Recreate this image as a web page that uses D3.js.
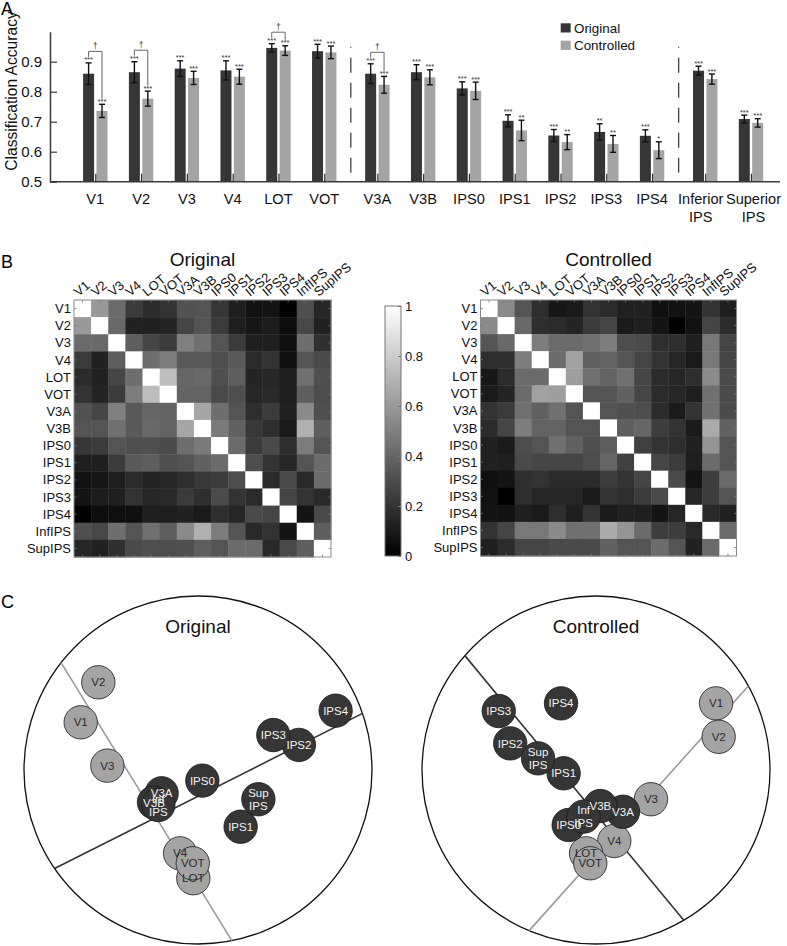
<!DOCTYPE html>
<html><head><meta charset="utf-8">
<script src="https://cdn.jsdelivr.net/npm/d3@7"></script>
<style>
body{margin:0;background:#fff}
svg{display:block;font-family:"Liberation Sans",Arial,Helvetica,sans-serif}
</style>
</head><body><svg id="fig" width="787" height="946"></svg>
<script>
// ---------------- DATA ----------------
// Panel A: classification accuracy
const categories = ["V1","V2","V3","V4","LOT","VOT","V3A","V3B","IPS0","IPS1","IPS2","IPS3","IPS4","Inferior IPS","Superior IPS"];
const categoryGroup = [0,0,0,0,0,0,1,1,1,1,1,1,1,2,2];
const originalAcc   = [0.860,0.865,0.877,0.871,0.946,0.935,0.860,0.865,0.811,0.703,0.654,0.666,0.653,0.870,0.709];
const originalErr   = [0.036,0.035,0.026,0.032,0.014,0.023,0.033,0.025,0.022,0.020,0.020,0.027,0.020,0.015,0.013];
const controlledAcc = [0.736,0.777,0.846,0.850,0.937,0.931,0.823,0.848,0.803,0.671,0.632,0.626,0.605,0.842,0.696];
const controlledErr = [0.022,0.025,0.022,0.025,0.016,0.021,0.028,0.025,0.029,0.034,0.025,0.028,0.028,0.017,0.014];
const originalSig   = ["***","***","***","***","***","***","***","***","***","***","***","**","***","***","***"];
const controlledSig = ["***","***","***","***","***","***","***","***","***","**","**","**","*","***","***"];
const daggerCategories = ["V1","V2","LOT","V3A"];
const yTickValues = [0.5,0.6,0.7,0.8,0.9];
const seriesNames = ["Original","Controlled"];

// Panel B: similarity matrices (lower triangles, diagonal = 1)
const heatLabels = ["V1","V2","V3","V4","LOT","VOT","V3A","V3B","IPS0","IPS1","IPS2","IPS3","IPS4","InfIPS","SupIPS"];
const originalLower = [
  [],
  [0.60],
  [0.42,0.41],
  [0.23,0.13,0.37],
  [0.17,0.13,0.27,0.43],
  [0.20,0.14,0.23,0.49,0.74],
  [0.32,0.27,0.50,0.35,0.40,0.39],
  [0.33,0.33,0.44,0.35,0.41,0.39,0.65],
  [0.21,0.23,0.33,0.31,0.31,0.29,0.43,0.48],
  [0.12,0.12,0.23,0.35,0.37,0.31,0.33,0.38,0.42],
  [0.07,0.09,0.12,0.17,0.14,0.15,0.18,0.22,0.23,0.30],
  [0.08,0.11,0.12,0.20,0.15,0.16,0.23,0.18,0.29,0.20,0.17],
  [0.01,0.05,0.06,0.06,0.12,0.12,0.13,0.10,0.18,0.15,0.29,0.27],
  [0.31,0.28,0.43,0.33,0.44,0.37,0.54,0.69,0.49,0.33,0.16,0.20,0.08],
  [0.15,0.13,0.19,0.29,0.31,0.30,0.31,0.37,0.33,0.42,0.42,0.16,0.29,0.37]
];
const controlledLower = [
  [],
  [0.54],
  [0.33,0.41],
  [0.18,0.18,0.49],
  [0.09,0.17,0.42,0.42],
  [0.10,0.14,0.42,0.63,0.62],
  [0.20,0.23,0.44,0.38,0.44,0.33],
  [0.17,0.27,0.49,0.39,0.39,0.33,0.33],
  [0.13,0.10,0.30,0.33,0.44,0.38,0.31,0.37],
  [0.13,0.12,0.29,0.27,0.27,0.27,0.30,0.40,0.25],
  [0.06,0.08,0.18,0.20,0.17,0.17,0.17,0.24,0.20,0.27],
  [0.07,0.00,0.18,0.15,0.15,0.15,0.10,0.20,0.18,0.23,0.29],
  [0.08,0.07,0.12,0.10,0.18,0.12,0.20,0.10,0.13,0.12,0.08,0.15],
  [0.20,0.27,0.47,0.47,0.54,0.44,0.44,0.67,0.58,0.42,0.24,0.24,0.16],
  [0.12,0.17,0.27,0.27,0.29,0.29,0.29,0.38,0.33,0.33,0.42,0.33,0.13,0.42]
];
const colorbarTicks = [0,0.2,0.4,0.6,0.8,1];

// Panel C: 2-D MDS embedding (unit-circle coordinates)
const mdsLabels = ["V1","V2","V3","V4","LOT","VOT","V3A","V3B","IPS0","IPS1","IPS2","IPS3","IPS4","InfIPS","SupIPS"];
const mdsDisplay = ["V1","V2","V3","V4","LOT","VOT","V3A","V3B","IPS0","IPS1","IPS2","IPS3","IPS4","Inf\nIPS","Sup\nIPS"];
const mdsIsVisual = [1,1,1,1,1,1,0,0,0,0,0,0,0,0,0];
const mdsOriginalX = [-0.674,-0.573,-0.521,-0.103,-0.027,-0.030,-0.209,-0.253, 0.025, 0.245, 0.580, 0.433, 0.791,-0.228, 0.347];
const mdsOriginalY = [ 0.274, 0.504, 0.025,-0.479,-0.622,-0.536,-0.134,-0.186,-0.061,-0.326, 0.144, 0.201, 0.341,-0.201,-0.168];
const mdsControlledX = [0.690, 0.705, 0.316, 0.105,-0.057,-0.033, 0.155, 0.025,-0.157,-0.186,-0.493,-0.559,-0.201,-0.071,-0.333];
const mdsControlledY = [0.383, 0.191,-0.168,-0.408,-0.479,-0.536,-0.240,-0.207,-0.316,-0.019, 0.153, 0.339, 0.383,-0.268, 0.067];
// axis lines: endpoint angles (degrees) on the unit circle [visual axis, dorsal axis]
const originalAxisAngles = [[141.9, 281.2],[214.5, 19.0]];
const controlledAxisAngles = [[28.9, 247.4],[138.9, 300.3]];

// ---------------- DRAW ----------------
const svg = d3.select("#fig");
const DARK = "#363636", LIGHT = "#a4a4a4";

// panel letters
svg.append("text").attr("x",1).attr("y",15).attr("font-size",18).text("A");
svg.append("text").attr("x",1).attr("y",268).attr("font-size",18).text("B");
svg.append("text").attr("x",1).attr("y",608).attr("font-size",18).text("C");

// ===== Panel A =====
const gA = svg.append("g");
const groupGap = 0.16;
const slot = categories.map((c,i)=> i + categoryGroup[i]*groupGap);
const xA = d3.scaleLinear().domain([0, categories.length-1 + 2*groupGap]).range([95.3, 751]);
const yA = d3.scaleLinear().domain([0.5, 1.0]).range([181.7, 31.7]);
const barW = 11, barOff = 1.2;
const idx = d3.range(categories.length);

const series = [
  {acc: originalAcc, err: originalErr, sig: originalSig, color: DARK, dx: -(barOff + barW/2)},
  {acc: controlledAcc, err: controlledErr, sig: controlledSig, color: LIGHT, dx: (barOff + barW/2)}
];
series.forEach(s=>{
  gA.selectAll(null).data(idx).enter().append("rect")
    .attr("x", i=> xA(slot[i]) + s.dx - barW/2)
    .attr("width", barW)
    .attr("y", i=> yA(s.acc[i]))
    .attr("height", i=> yA(0.5) - yA(s.acc[i]))
    .attr("fill", s.color);
});
// x axis
gA.append("line").attr("x1",50).attr("x2",780).attr("y1",yA(0.5)).attr("y2",yA(0.5))
  .attr("stroke","#3a3a3a").attr("stroke-width",1.5);
const xAxis = d3.axisBottom(xA).tickValues(slot).tickSize(-8).tickFormat("");
const gx = gA.append("g").attr("transform",`translate(0,${yA(0.5)})`).call(xAxis);
gx.select(".domain").remove();
gx.selectAll(".tick line").attr("stroke","#2a2a2a").attr("stroke-width",1.2);
// x labels (the two wrapped labels of the last group are spread slightly so they do not collide)
idx.forEach(i=>{
  const parts = categories[i].split(" ");
  const nudge = categoryGroup[i] === 2 ? (i === categories.length-1 ? 2.5 : -4.5) : 0;
  const lx = xA(slot[i]) + nudge;
  const t = gA.append("text").attr("x", lx).attr("y",203.5).attr("text-anchor","middle")
    .attr("font-size",14.6).attr("fill","#111");
  parts.forEach((p,k)=> t.append("tspan").attr("x", lx).attr("dy", k===0?0:18.5).text(p));
});
// y axis
const yAxis = d3.axisLeft(yA).tickValues(yTickValues).tickSize(-7).tickSizeOuter(0).tickPadding(8)
  .tickFormat(d3.format(".1f"));
const gy = gA.append("g").attr("transform","translate(50,0)").call(yAxis);
gy.select(".domain").attr("stroke","#3a3a3a").attr("stroke-width",1.5);
gy.selectAll(".tick line").attr("stroke","#3a3a3a").attr("stroke-width",1.2);
gy.selectAll(".tick text").attr("font-size",15).attr("fill","#111").attr("font-family",null);
gA.append("text").attr("transform","translate(17,91) rotate(-90)").attr("text-anchor","middle")
  .attr("font-size",15.6).attr("fill","#111").text("Classification Accuracy");

// group separators
[[5,6],[12,13]].forEach(([a,b])=>{
  const x = xA((slot[a]+slot[b])/2);
  gA.append("line").attr("x1",x).attr("x2",x).attr("y1",yA(0.95)).attr("y2",yA(0.5))
    .attr("stroke","#444").attr("stroke-width",1.3)
    .attr("stroke-dasharray","15,10").attr("stroke-dashoffset",14);
});
// error bars + stars
series.forEach(s=>{
  idx.forEach(i=>{
    const cx = xA(slot[i]) + s.dx;
    const y1 = yA(s.acc[i]+s.err[i]), y2 = yA(s.acc[i]-s.err[i]);
    gA.append("line").attr("x1",cx).attr("x2",cx).attr("y1",y1).attr("y2",y2).attr("stroke","#111").attr("stroke-width",1.4);
    [y1,y2].forEach(yy=> gA.append("line").attr("x1",cx-3).attr("x2",cx+3).attr("y1",yy).attr("y2",yy).attr("stroke","#111").attr("stroke-width",1.4));
    gA.append("text").attr("x",cx).attr("y",y1-0.5).attr("text-anchor","middle").attr("font-size",7.5)
      .attr("fill","#333").text(s.sig[i]);
  });
});
// dagger brackets
daggerCategories.forEach(name=>{
  const i = categories.indexOf(name);
  const xo = xA(slot[i]) + series[0].dx, xc = xA(slot[i]) + series[1].dx;
  const yo = yA(originalAcc[i]+originalErr[i]), yc = yA(controlledAcc[i]+controlledErr[i]);
  const yb = Math.min(yo,yc) - 11.5;
  gA.append("path").attr("d",`M${xo},${yo-6}V${yb}H${xc}V${yc-5}`)
    .attr("fill","none").attr("stroke","#666").attr("stroke-width",1);
  gA.append("text").attr("x",(xo+xc)/2).attr("y",yb-2).attr("text-anchor","middle")
    .attr("font-size",8.5).attr("fill","#333").attr("opacity",0.99)
    .attr("transform",`rotate(0.01,${(xo+xc)/2},${yb})`).text("\u2020");
});
// legend
seriesNames.forEach((n,k)=>{
  gA.append("rect").attr("x",560.7).attr("y",23.3 + k*17.4).attr("width",10).attr("height",9.2)
    .attr("fill", k===0?DARK:LIGHT);
  gA.append("text").attr("x",574).attr("y",32.6 + k*17.4).attr("font-size",13.4).attr("fill","#111").text(n);
});

// ===== Panel B =====
function fullMatrix(lower){
  const n = heatLabels.length;
  return d3.range(n).map(i=> d3.range(n).map(j=> i===j ? 1 : (i>j ? lower[i][j] : lower[j][i])));
}
const gray = d3.scaleLinear().domain([0,1]).range(["#000000","#ffffff"]);

function drawHeat(lower, x0, y0, size, title){
  const g = svg.append("g");
  const m = fullMatrix(lower);
  const xs = d3.scaleBand().domain(heatLabels).range([x0, x0+size]);
  const ys = d3.scaleBand().domain(heatLabels).range([y0, y0+size]);
  const cells = [];
  m.forEach((row,i)=> row.forEach((v,j)=> cells.push({r:heatLabels[i], c:heatLabels[j], v})));
  g.selectAll(null).data(cells).enter().append("rect")
    .attr("x", d=> xs(d.c)).attr("y", d=> ys(d.r))
    .attr("width", xs.bandwidth()+0.4).attr("height", ys.bandwidth()+0.4)
    .attr("fill", d=> gray(d.v));
  g.append("rect").attr("x",x0).attr("y",y0).attr("width",size).attr("height",size)
    .attr("fill","none").attr("stroke","#8a8a8a").attr("stroke-width",1);
  const bw = xs.bandwidth();
  heatLabels.forEach(l=>{
    const cx = xs(l)+bw/2, cy = ys(l)+bw/2;
    [[cx,y0,cx,y0+2.5],[cx,y0+size,cx,y0+size-2.5],[x0,cy,x0+2.5,cy],[x0+size,cy,x0+size-2.5,cy]].forEach(p=>
      g.append("line").attr("x1",p[0]).attr("y1",p[1]).attr("x2",p[2]).attr("y2",p[3]).attr("stroke","#777").attr("stroke-width",0.8));
    g.append("text").attr("x",x0-3).attr("y",cy).attr("dy","0.35em").attr("text-anchor","end")
      .attr("font-size",13).attr("fill","#111").text(l);
    g.append("text").attr("transform",`translate(${cx-4},${y0-3}) rotate(-40)`)
      .attr("font-size",13).attr("fill","#111").text(l);
  });
  g.append("text").attr("x",x0+size/2).attr("y",266).attr("text-anchor","middle").attr("font-size",19)
    .attr("fill","#111").text(title);
}
drawHeat(originalLower, 74, 300, 257, "Original");
drawHeat(controlledLower, 480.5, 300, 256, "Controlled");

// colorbar
const cb = svg.append("g");
const cbY = d3.scaleLinear().domain([0,1]).range([556, 306]);
const grad = svg.append("defs").append("linearGradient").attr("id","cbgrad")
  .attr("x1","0").attr("y1","1").attr("x2","0").attr("y2","0");
colorbarTicks.forEach(t=> grad.append("stop").attr("offset",t).attr("stop-color",gray(t)));
cb.append("rect").attr("x",385).attr("y",cbY(1)).attr("width",16).attr("height",cbY(0)-cbY(1))
  .attr("fill","url(#cbgrad)").attr("stroke","#777").attr("stroke-width",1);
const cbAxis = d3.axisRight(cbY).tickValues(colorbarTicks).tickSize(-3).tickPadding(4).tickFormat(d=> d3.format("~g")(d));
const gcb = cb.append("g").attr("transform","translate(401,0)").call(cbAxis);
gcb.select(".domain").remove();
gcb.selectAll(".tick line").attr("stroke","#777");
gcb.selectAll(".tick text").attr("font-size",13).attr("fill","#111").attr("font-family",null);

// ===== Panel C =====
function drawMDS(cx, cy, r, xs_, ys_, axes, title){
  const g = svg.append("g");
  const sx = d3.scaleLinear().domain([-1,1]).range([cx-r, cx+r]);
  const sy = d3.scaleLinear().domain([-1,1]).range([cy+r, cy-r]);
  g.append("circle").attr("cx",cx).attr("cy",cy).attr("r",r).attr("fill","none").attr("stroke","#111").attr("stroke-width",1.3);
  const rad = d3.scaleLinear().domain([0,360]).range([0,2*Math.PI]);
  axes.forEach((a,k)=>{
    g.append("line")
      .attr("x1", sx(Math.cos(rad(a[0])))).attr("y1", sy(Math.sin(rad(a[0]))))
      .attr("x2", sx(Math.cos(rad(a[1])))).attr("y2", sy(Math.sin(rad(a[1]))))
      .attr("stroke", k===0 ? "#9a9a9a" : "#333").attr("stroke-width",1.6);
  });
  const nodes = mdsLabels.map((l,i)=>({l, disp: mdsDisplay[i], vis: mdsIsVisual[i], x: xs_[i], y: ys_[i]}));
  g.selectAll(null).data(nodes).enter().append("circle")
    .attr("cx", d=> sx(d.x)).attr("cy", d=> sy(d.y)).attr("r",16.7)
    .attr("fill", d=> d.vis ? LIGHT : DARK).attr("stroke","#1a1a1a").attr("stroke-width",0.8);
  nodes.forEach(d=>{
    const lines = d.disp.split("\n");
    const t = g.append("text").attr("text-anchor","middle").attr("font-size",11.5)
      .attr("fill", d.vis ? "#2a2a2a" : "#f2f2f2");
    lines.forEach((p,k)=> t.append("tspan").attr("x", sx(d.x))
      .attr("y", sy(d.y) + (k - (lines.length-1)/2)*13).attr("dy","0.36em").text(p));
  });
  g.append("text").attr("x",cx).attr("y",633).attr("text-anchor","middle").attr("font-size",19)
    .attr("fill","#111").text(title);
}
drawMDS(198, 770, 174, mdsOriginalX, mdsOriginalY, originalAxisAngles, "Original");
drawMDS(596, 770, 174, mdsControlledX, mdsControlledY, controlledAxisAngles, "Controlled");
</script>
</body></html>
